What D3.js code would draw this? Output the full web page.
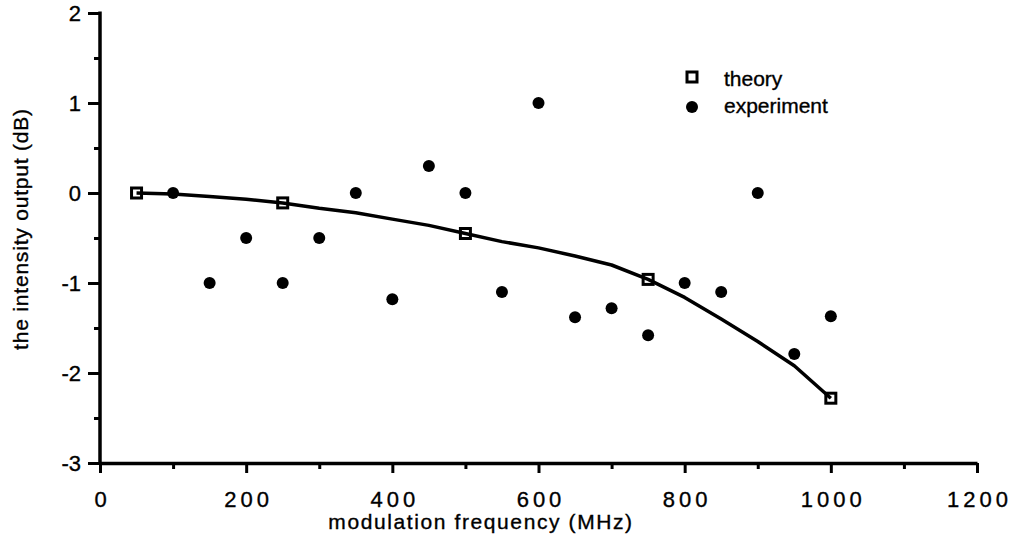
<!DOCTYPE html>
<html>
<head>
<meta charset="utf-8">
<script src="https://cdn.jsdelivr.net/npm/d3@7"></script>
<style>
  html, body { margin: 0; padding: 0; background: #fff; }
  svg { display: block; }
  text { font-family: "Liberation Sans", Arial, Helvetica, sans-serif; fill: #000; stroke: #000; stroke-width: 0.35px; }
</style>
</head>
<body>
<svg id="chart" width="1013" height="542"></svg>
<script>
// Modulation frequency (MHz) and intensity output (dB)
const curveFreq = [50, 100, 150, 200, 250, 300, 350, 400, 450, 500, 550, 600, 650, 700, 750, 800, 850, 900, 950, 1000];
const curveDb   = [0, -0.01, -0.04, -0.07, -0.11, -0.17, -0.22, -0.29, -0.36, -0.45, -0.54, -0.61, -0.70, -0.80, -0.96, -1.16, -1.40, -1.65, -1.92, -2.28];

const theoryFreq = [50, 250, 500, 750, 1000];
const theoryDb   = [0, -0.11, -0.45, -0.96, -2.28];

const expFreq = [100, 150, 200, 250, 300, 350, 400, 450, 500, 550, 600, 650, 700, 750, 800, 850, 900, 950, 1000];
const expDb   = [0, -1.0, -0.5, -1.0, -0.5, 0, -1.18, 0.3, 0, -1.1, 1.0, -1.38, -1.28, -1.58, -1.0, -1.1, 0, -1.79, -1.37];

const xTicks = [0, 200, 400, 600, 800, 1000, 1200];
const xMinorTicks = [100, 300, 500, 700, 900, 1100];
const yTicks = [-3, -2, -1, 0, 1, 2];
const yMinorTicks = [-2.5, -1.5, -0.5, 0.5, 1.5];

const legendLabels = ["theory", "experiment"];
const xTitle = "modulation frequency (MHz)";
const yTitle = "the intensity output  (dB)";

const svg = d3.select("#chart");
const x = d3.scaleLinear().domain([0, 1200]).range([100, 977]);
const y = d3.scaleLinear().domain([-3, 2]).range([463, 13]);

const fmt = d => String(d);

// minor ticks first, then major axes on top
svg.append("g")
  .attr("transform", `translate(0,${y(-3)})`)
  .call(d3.axisBottom(x).tickValues(xMinorTicks).tickSize(6).tickSizeOuter(0).tickFormat(""))
  .call(g => g.select(".domain").remove())
  .call(g => g.selectAll("line").attr("stroke", "#000").attr("stroke-width", 3));

svg.append("g")
  .attr("transform", `translate(${x(0)},0)`)
  .call(d3.axisLeft(y).tickValues(yMinorTicks).tickSize(6).tickSizeOuter(0).tickFormat(""))
  .call(g => g.select(".domain").remove())
  .call(g => g.selectAll("line").attr("stroke", "#000").attr("stroke-width", 3));

const xAxis = svg.append("g")
  .attr("transform", `translate(0,${y(-3)})`)
  .call(d3.axisBottom(x).tickValues(xTicks).tickSize(10).tickSizeOuter(0).tickFormat(fmt));
xAxis.select(".domain").attr("stroke", "#000").attr("stroke-width", 3.5);
xAxis.selectAll("line").attr("stroke", "#000").attr("stroke-width", 3);
xAxis.selectAll("text")
  .attr("y", 44).attr("dy", 0).attr("dx", 2)
  .style("font-size", "22px").style("letter-spacing", "4px")
  .attr("font-family", null);

const yAxis = svg.append("g")
  .attr("transform", `translate(${x(0)},0)`)
  .call(d3.axisLeft(y).tickValues(yTicks).tickSize(12).tickSizeOuter(0).tickFormat(fmt));
yAxis.select(".domain").attr("stroke", "#000").attr("stroke-width", 3.5)
  .attr("d", `M0,${y(2) - 1.5}V${y(-3) + 1.5}`);
yAxis.selectAll("line").attr("stroke", "#000").attr("stroke-width", 3);
yAxis.selectAll("text")
  .attr("x", -19).attr("dy", "0.36em")
  .style("font-size", "22px")
  .attr("font-family", null);

// theory markers, drawn under the curve
const squares = svg.append("g");
squares.selectAll("rect")
  .data(theoryDb)
  .join("rect")
  .attr("x", (d, i) => x(theoryFreq[i]) - 5)
  .attr("y", d => y(d) - 5)
  .attr("width", 10).attr("height", 10)
  .attr("fill", "#fff").attr("stroke", "#000").attr("stroke-width", 3);

// theory curve
const line = d3.line().x((d, i) => x(curveFreq[i])).y(d => y(d));
svg.append("path")
  .datum(curveDb)
  .attr("d", line)
  .attr("fill", "none")
  .attr("stroke", "#000")
  .attr("stroke-width", 3.5)
  .attr("stroke-linejoin", "round");

// experimental points
svg.append("g").selectAll("circle")
  .data(expDb)
  .join("circle")
  .attr("cx", (d, i) => x(expFreq[i]))
  .attr("cy", d => y(d))
  .attr("r", 6)
  .attr("fill", "#000");

// legend
const legend = svg.append("g");
legend.append("rect")
  .attr("x", 692 - 5).attr("y", 77 - 5).attr("width", 10).attr("height", 10)
  .attr("fill", "#fff").attr("stroke", "#000").attr("stroke-width", 3);
legend.append("circle").attr("cx", 692).attr("cy", 107).attr("r", 6).attr("fill", "#000");
legend.selectAll("text")
  .data(legendLabels)
  .join("text")
  .attr("x", 724)
  .attr("y", (d, i) => i === 0 ? 86 : 113)
  .style("font-size", "21px")
  .text(d => d);

// axis titles
svg.append("text")
  .attr("x", 481).attr("y", 529)
  .attr("text-anchor", "middle")
  .style("font-size", "21px").style("letter-spacing", "1.6px")
  .text(xTitle);

svg.append("text")
  .attr("transform", "translate(28,229) rotate(-90)")
  .attr("text-anchor", "middle")
  .style("font-size", "21px").style("letter-spacing", "0.8px")
  .text(yTitle);
</script>
</body>
</html>
